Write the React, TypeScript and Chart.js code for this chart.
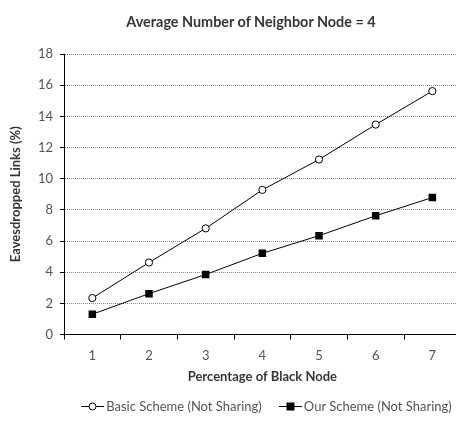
import { useEffect, useRef } from "react";
import { Chart, registerables } from "chart.js";

Chart.register(...registerables);

const categories = ["1", "2", "3", "4", "5", "6", "7"];
const basicScheme = [2.34, 4.62, 6.81, 9.28, 11.23, 13.47, 15.62];
const ourScheme = [1.3, 2.62, 3.85, 5.21, 6.34, 7.62, 8.79];
const seriesNames = ["Basic Scheme (Not Sharing)", "Our Scheme (Not Sharing)"];
const seriesMarkers: ("circle" | "square")[] = ["circle", "square"];
const yMin = 0;
const yMax = 18;
const yStep = 2;
const chartTitle = "Average Number of Neighbor Node = 4";
const xTitle = "Percentage of Black Node";
const yTitle = "Eavesdropped Links (%)";

const FONT = "Lato";
const TICK_COLOR = "#555555";
const TITLE_COLOR = "#363636";

function LegendSymbol({ kind }: { kind: "circle" | "square" }) {
  return (
    <svg width={23} height={11} style={{ display: "block" }}>
      <line x1={0} y1={5.5} x2={23} y2={5.5} stroke="#000" strokeWidth={1} />
      {kind === "circle" ? (
        <circle cx={11.5} cy={5.5} r={3.5} fill="#fff" stroke="#000" strokeWidth={1} />
      ) : (
        <rect x={7.5} y={1.5} width={8} height={8} fill="#000" />
      )}
    </svg>
  );
}

export default function App() {
  const ref = useRef<HTMLCanvasElement>(null);

  useEffect(() => {
    if (!ref.current) return;
    const chart = new Chart(ref.current, {
      type: "line",
      data: {
        labels: categories,
        datasets: [
          {
            label: seriesNames[0],
            data: basicScheme,
            borderColor: "#000",
            borderWidth: 1,
            backgroundColor: "#fff",
            pointStyle: "circle",
            pointRadius: 3.6,
            pointBorderWidth: 1,
            pointBorderColor: "#000",
            pointBackgroundColor: "#fff",
            tension: 0,
          },
          {
            label: seriesNames[1],
            data: ourScheme,
            borderColor: "#000",
            borderWidth: 1,
            backgroundColor: "#000",
            pointStyle: "rect",
            pointRadius: 5.3,
            pointBorderWidth: 0,
            pointBackgroundColor: "#000",
            tension: 0,
          },
        ],
      },
      options: {
        animation: false,
        responsive: false,
        layout: { padding: { top: 54, right: 0.7, bottom: 36.2, left: 0 } },
        plugins: {
          title: { display: false },
          tooltip: { enabled: false },
          legend: { display: false },
        },
        scales: {
          x: {
            type: "category",
            offset: true,
            grid: {
              offset: true,
              drawOnChartArea: false,
              drawTicks: true,
              tickLength: 5,
              tickColor: "#000",
              color: "#000",
            },
            border: { color: "#000", width: 1 },
            ticks: {
              padding: 8.7,
              color: TICK_COLOR,
              font: { family: FONT, size: 13 },
            },
            title: {
              display: true,
              text: xTitle,
              color: TITLE_COLOR,
              font: { family: FONT, size: 13, weight: "bold" },
              padding: { top: -3.3, bottom: 0 },
            },
          },
          y: {
            min: yMin,
            max: yMax,
            ticks: {
              stepSize: yStep,
              padding: 7,
              color: TICK_COLOR,
              font: { family: FONT, size: 13 },
            },
            grid: {
              color: "#8c8c8c",
              tickColor: "#000",
              tickLength: 4,
              tickBorderDash: [],
            },
            border: { color: "#000", width: 1, dash: [1, 1] },
            title: {
              display: true,
              text: yTitle,
              color: TITLE_COLOR,
              font: { family: FONT, size: 13, weight: "bold" },
              padding: { top: 8, bottom: 0 },
            },
            afterFit: (scale: any) => {
              scale.width = 64;
            },
          },
        },
      },
    } as any);
    return () => chart.destroy();
  }, []);

  return (
    <div
      style={{
        position: "fixed",
        left: 0,
        top: 0,
        width: 456,
        height: 421,
        overflow: "hidden",
        background: "#fff",
      }}
    >
      <div style={{ position: "absolute", left: 0, top: 0, width: 466, height: 421 }}>
        <canvas ref={ref} width={466} height={421} style={{ display: "block" }} />
      </div>
      <div
        style={{
          position: "absolute",
          left: 0,
          top: 12,
          width: 502,
          textAlign: "center",
          fontFamily: FONT,
          fontWeight: "bold",
          fontSize: 14.4,
          lineHeight: "20px",
          color: TITLE_COLOR,
          whiteSpace: "nowrap",
        }}
      >
        {chartTitle}
      </div>
      <div
        style={{
          position: "absolute",
          left: 0,
          top: 397,
          width: 533,
          height: 18,
          display: "flex",
          justifyContent: "center",
          alignItems: "center",
          gap: 17,
          fontFamily: FONT,
          fontSize: 13,
          color: TICK_COLOR,
          whiteSpace: "nowrap",
        }}
      >
        {seriesNames.map((name, i) => (
          <div key={name} style={{ display: "flex", alignItems: "center" }}>
            <LegendSymbol kind={seriesMarkers[i]} />
            <span style={{ marginLeft: 2 }}>{name}</span>
          </div>
        ))}
      </div>
    </div>
  );
}
